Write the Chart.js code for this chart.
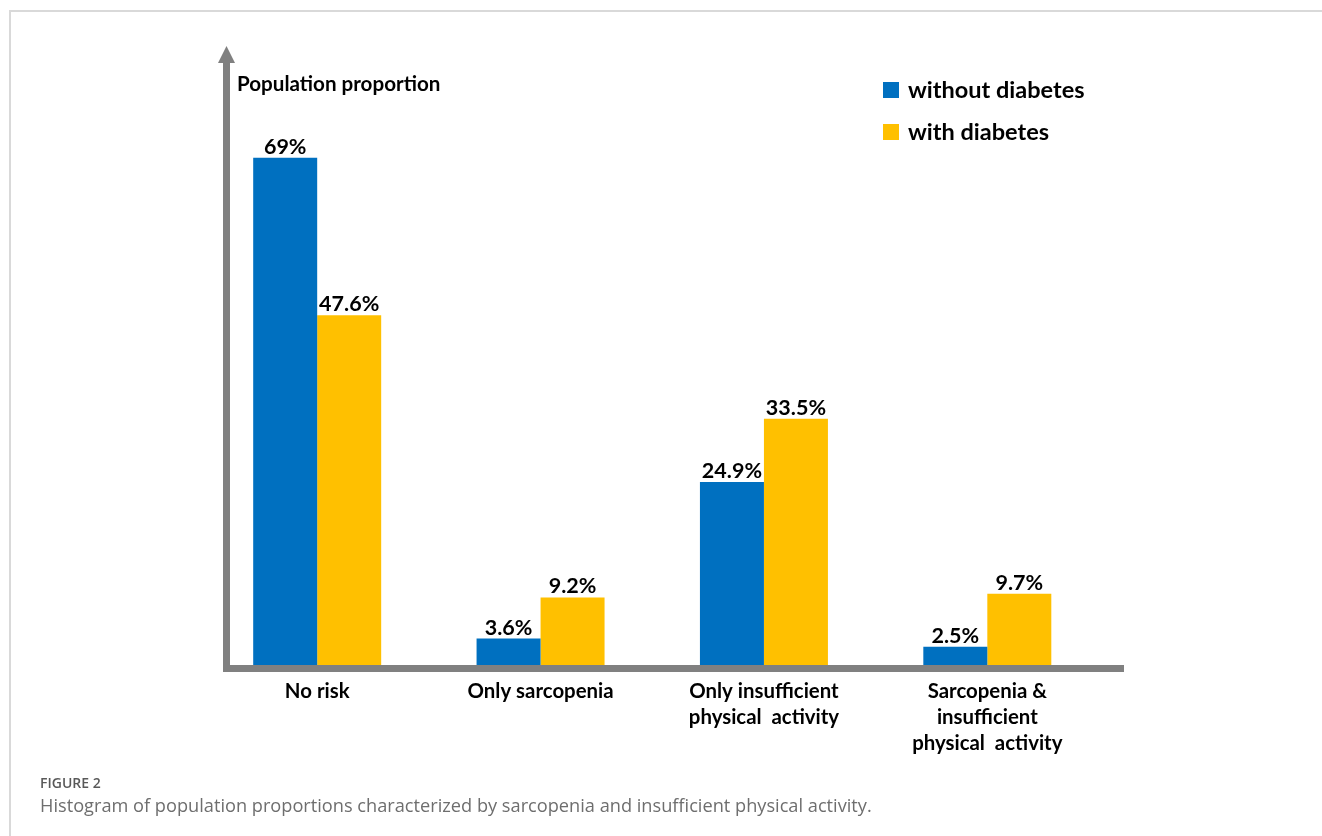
<!DOCTYPE html>
<html>
<head>
<meta charset="utf-8">
<script src="https://cdn.jsdelivr.net/npm/chart.js@4/dist/chart.umd.min.js"></script>
<style>
  html, body { margin: 0; padding: 0; background: #fff; }
  #wrap { position: relative; width: 1322px; height: 836px; overflow: hidden; }
  #frame { position: absolute; left: 9px; top: 10px; width: 1330px; height: 840px;
           border-top: 2px solid #d9d9d9; border-left: 2px solid #d9d9d9; }
  #chart { position: absolute; left: 0; top: 0; }
  #fig { position: absolute; left: 40px; top: 773px; font: 600 14px "Open Sans", sans-serif; color: #595959; }
  #cap { position: absolute; left: 40px; top: 793px; font: 400 18.2px "Open Sans", sans-serif; color: #6e6e6e; }
</style>
</head>
<body>
<div id="wrap">
  <div id="frame"></div>
  <canvas id="chart" width="1322" height="836"></canvas>
  <div id="fig">FIGURE 2</div>
  <div id="cap">Histogram of population proportions characterized by sarcopenia and insufficient physical activity.</div>
</div>
<script>
const categories = [
  ["No risk"],
  ["Only sarcopenia"],
  ["Only insufficient", "physical  activity"],
  ["Sarcopenia &", "insufficient", "physical  activity"]
];
const seriesNames = ["without diabetes", "with diabetes"];
const withoutDiabetes = [69, 3.6, 24.9, 2.5];
const withDiabetes = [47.6, 9.2, 33.5, 9.7];
const yAxisTitle = "Population proportion";
const yMax = 80;

const BLUE = "#0070C0", GOLD = "#FFC000", AXIS = "#808080";

const decor = {
  id: "decor",
  afterDatasetsDraw(chart) {
    const ctx = chart.ctx;
    const a = chart.chartArea;
    ctx.save();
    // value labels
    ctx.fillStyle = "#000";
    ctx.font = "bold 21.5px Lato";
    ctx.textAlign = "center";
    ctx.textBaseline = "alphabetic";
    chart.data.datasets.forEach((ds, di) => {
      const meta = chart.getDatasetMeta(di);
      meta.data.forEach((bar, i) => {
        ctx.fillText(ds.data[i] + "%", bar.x, bar.y - 4);
      });
    });
    // axes
    ctx.fillStyle = AXIS;
    const ax = a.left + 17.5;
    ctx.fillRect(ax, a.top - 14, 7, a.bottom - a.top + 21);
    ctx.fillRect(ax, a.bottom, a.right + 25 - ax, 7);
    ctx.beginPath();
    ctx.moveTo(ax + 3.5, a.top - 31);
    ctx.lineTo(ax + 3.5 + 8.5, a.top - 14);
    ctx.lineTo(ax + 3.5 - 8.5, a.top - 14);
    ctx.closePath();
    ctx.fill();
    // y axis title
    ctx.fillStyle = "#000";
    ctx.font = "bold 20.6px Lato";
    ctx.textAlign = "left";
    ctx.textBaseline = "middle";
    ctx.fillText(yAxisTitle, a.left + 31.5, a.top + 7);
    // legend
    ctx.font = "bold 23.5px Lato";
    chart.data.datasets.forEach((ds, di) => {
      const lx = a.right - 216, ly = a.top + 13 + di * 42;
      ctx.fillStyle = ds.backgroundColor;
      ctx.fillRect(lx, ly - 8, 16, 16);
      ctx.fillStyle = "#000";
      ctx.fillText(ds.label, lx + 25, ly);
    });
    ctx.restore();
  }
};

new Chart(document.getElementById("chart"), {
  type: "bar",
  data: {
    labels: categories,
    datasets: [
      { label: seriesNames[0], data: withoutDiabetes, backgroundColor: BLUE, borderWidth: 0 },
      { label: seriesNames[1], data: withDiabetes, backgroundColor: GOLD, borderWidth: 0 }
    ]
  },
  options: {
    responsive: false,
    animation: false,
    devicePixelRatio: 1,
    layout: { padding: { left: 205.5, right: 223, top: 77, bottom: 51 } },
    categoryPercentage: 0.573,
    barPercentage: 1,
    plugins: { legend: { display: false }, tooltip: { enabled: false } },
    scales: {
      x: {
        grid: { display: false, drawTicks: false },
        border: { display: false },
        ticks: { color: "#000", font: { family: "Lato", weight: "bold", size: 20.4, lineHeight: "26px" }, padding: 13, maxRotation: 0, autoSkip: false },
        afterFit: (s) => { s.height = 120; }
      },
      y: { display: false, min: 0, max: yMax }
    }
  },
  plugins: [decor]
});
</script>
</body>
</html>
